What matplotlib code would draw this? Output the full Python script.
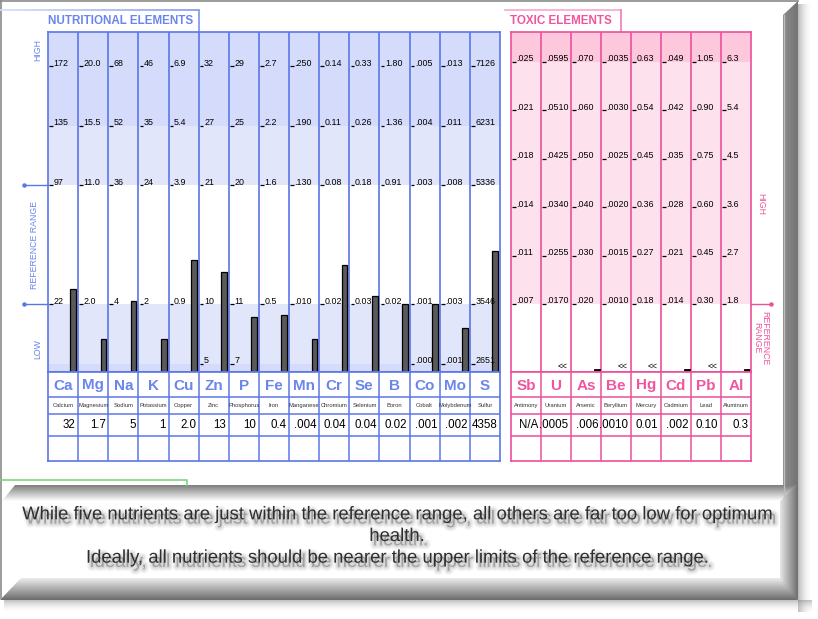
import numpy as np
import matplotlib
matplotlib.use('Agg')
import matplotlib.pyplot as plt
import matplotlib.colors as mcolors
from matplotlib import patheffects as pe
from matplotlib.patches import Polygon
from matplotlib.collections import LineCollection

W, H = 818, 619

# ---------------- data ----------------
nut_symbols = ['Ca', 'Mg', 'Na', 'K', 'Cu', 'Zn', 'P', 'Fe', 'Mn', 'Cr', 'Se', 'B', 'Co', 'Mo', 'S']
nut_names = ['Calcium', 'Magnesium', 'Sodium', 'Potassium', 'Copper', 'Zinc', 'Phosphorus', 'Iron',
             'Manganese', 'Chromium', 'Selenium', 'Boron', 'Cobalt', 'Molybdenum', 'Sulfur']
nut_results = ['32', '1.7', '5', '1', '2.0', '13', '10', '0.4', '.004', '0.04', '0.04', '0.02',
               '.001', '.002', '4358']
# bar level in % of the reference range (0 = lower limit, 100 = upper limit)
nut_bar_level = [13, -29, 3, -29, 37, 27, -11, -9, -29, 33, 7, 0, 0, -20, 45]
nut_tick_levels = [200, 150, 100, 0, -50]
nut_tick_200 = ['172', '20.0', '68', '46', '6.9', '32', '29', '2.7', '.250', '0.14', '0.33', '1.80', '.005', '.013', '7126']
nut_tick_150 = ['135', '15.5', '52', '35', '5.4', '27', '25', '2.2', '.190', '0.11', '0.26', '1.36', '.004', '.011', '6231']
nut_tick_100 = ['97', '11.0', '36', '24', '3.9', '21', '20', '1.6', '.130', '0.08', '0.18', '0.91', '.003', '.008', '5336']
nut_tick_0 = ['22', '2.0', '4', '2', '0.9', '10', '11', '0.5', '.010', '0.02', '0.03', '0.02', '.001', '.003', '3546']
nut_tick_m50 = ['', '', '', '', '', '5', '7', '', '', '', '', '', '.000', '.001', '2651']

tox_symbols = ['Sb', 'U', 'As', 'Be', 'Hg', 'Cd', 'Pb', 'Al']
tox_names = ['Antimony', 'Uranium', 'Arsenic', 'Beryllium', 'Mercury', 'Cadmium', 'Lead', 'Aluminum']
tox_results = ['N/A', '.0005', '.006', '.0010', '0.01', '.002', '0.10', '0.3']
# multiples of the reference upper limit
tox_tick_levels = [3.5, 3.0, 2.5, 2.0, 1.5, 1.0]
tox_tick_35 = ['.025', '.0595', '.070', '.0035', '0.63', '.049', '1.05', '6.3']
tox_tick_30 = ['.021', '.0510', '.060', '.0030', '0.54', '.042', '0.90', '5.4']
tox_tick_25 = ['.018', '.0425', '.050', '.0025', '0.45', '.035', '0.75', '4.5']
tox_tick_20 = ['.014', '.0340', '.040', '.0020', '0.36', '.028', '0.60', '3.6']
tox_tick_15 = ['.011', '.0255', '.030', '.0015', '0.27', '.021', '0.45', '2.7']
tox_tick_10 = ['.007', '.0170', '.020', '.0010', '0.18', '.014', '0.30', '1.8']
tox_bar_level = [np.nan, np.nan, 0.325, np.nan, np.nan, 0.325, np.nan, 0.325]
tox_flags = ['', '<<', '', '<<', '<<', '', '<<', '']

caption = ("While five nutrients are just within the reference range, all others are far too low for optimum\n"
           "health.\n"
           "Ideally, all nutrients should be nearer the upper limits of the reference range.")

# ---------------- style ----------------
BLUE = '#5b76e8'
BLUE_TXT = '#6a86ec'
NUT_DARK = '#d5dbfb'
NUT_LIGHT = '#e1e6fb'
PINK = '#ec4f9a'
PINK_TXT = '#f0559e'
TOX_DARK = '#fdc8dc'
TOX_LIGHT = '#fde1ed'
BAR_FILL = '#5a5a5a'
NUT_YLIM = (-57, 229)
TOX_YLIM = (0.297, 3.81)
SANS = ['Liberation Sans', 'DejaVu Sans']

fig = plt.figure(figsize=(W / 100, H / 100), dpi=100)
fig.patch.set_facecolor('white')


def px_axes(x0, y0, x1, y1, z=2):
    ax = fig.add_axes([x0 / W, 1 - y1 / H, (x1 - x0) / W, (y1 - y0) / H])
    ax.set_zorder(z)
    return ax


# ---------------- background frame ----------------
bg = fig.add_axes([0, 0, 1, 1])
bg.set_zorder(0)
bg.axis('off')


def grad(x0, x1, y0, y1, c0, c1, horizontal=False, clip=None, a0=1.0, a1=1.0, z=1):
    c0 = np.array(mcolors.to_rgba(c0, a0))
    c1 = np.array(mcolors.to_rgba(c1, a1))
    t = np.linspace(0, 1, 64)[:, None]
    arr = c0[None, :] * (1 - t) + c1[None, :] * t
    img = arr[None, :, :] if horizontal else arr[:, None, :]
    im = bg.imshow(img, extent=(x0, x1, y1, y0), origin='upper', aspect='auto',
                   interpolation='bilinear', zorder=z)
    if clip is not None:
        poly = Polygon(clip, closed=True, facecolor='none', edgecolor='none', transform=bg.transData)
        bg.add_patch(poly)
        im.set_clip_path(poly)
    return im


# right shadow
grad(798, 813, 4, 612, '#808080', '#ffffff', horizontal=True, a0=0.55, a1=0.0, z=1)
# bottom shadow
grad(4, 812, 600, 613, '#808080', '#ffffff', a0=0.5, a1=0.0, z=1)
# right strip
grad(783, 798, 0, 600, '#8c8c8c', '#737373', horizontal=True,
     clip=[(783, 15), (798, 1), (798, 600), (783, 585)], z=2)
bg.plot([783.5, 783.5], [15, 585], color='#bdbdbd', lw=1, zorder=3)
# slab top shadow
grad(0, 798, 485, 501, '#7d7d7d', '#ffffff',
     clip=[(15, 485), (798, 485), (780, 501), (2, 501)], z=2)
# slab bottom bevel
grad(0, 798, 578, 600, '#ececec', '#6c6c6c',
     clip=[(21, 578), (780, 578), (798, 600), (0, 600)], z=2)
# slab right bevel
grad(780, 798, 485, 600, '#e6e6e6', '#6e6e6e', horizontal=True,
     clip=[(780, 501), (798, 485), (798, 600), (780, 578)], z=3)
# outer thin border
bg.plot([0, 798], [0.5, 0.5], color='#8a8a8a', lw=1.2, zorder=4)
bg.plot([0.5, 0.5], [0, 598], color='#8a8a8a', lw=1.2, zorder=4)

# header tabs
tt = np.linspace(0, 1, 40)
xs = 199 * tt
segs = [[(xs[i], 10), (xs[i + 1], 10)] for i in range(len(xs) - 1)]
ca = np.array(mcolors.to_rgba('#d2ddf8'))
cb = np.array(mcolors.to_rgba('#7c96ee'))
cols = [ca * (1 - v) + cb * v for v in tt[:-1]]
bg.add_collection(LineCollection(segs, colors=cols, linewidths=1.2, zorder=4))
bg.plot([199, 199], [10, 32], color='#7a93ee', lw=1.2, zorder=4)
bg.text(48, 21.5, 'NUTRITIONAL ELEMENTS', fontsize=8.4, fontweight='bold', color=BLUE_TXT,
        family=SANS, va='center', ha='left', zorder=5)

bg.plot([505, 621], [10, 10], color='#f8a6cf', lw=1.2, zorder=4)
bg.plot([621, 621], [10, 32], color='#f07cba', lw=1.2, zorder=4)
bg.text(510, 21.5, 'TOXIC ELEMENTS', fontsize=8.4, fontweight='bold', color=PINK_TXT,
        family=SANS, va='center', ha='left', zorder=5)

# green line
bg.plot([0, 187, 187], [480, 480, 485], color='#7ed47e', lw=1.2, zorder=4)

# caption
shadow = [pe.Stroke(linewidth=6, foreground='#8a8a8a', alpha=0.08, offset=(2.5, -3)),
          pe.Stroke(linewidth=4, foreground='#8a8a8a', alpha=0.12, offset=(2.5, -3)),
          pe.Stroke(linewidth=2, foreground='#8a8a8a', alpha=0.16, offset=(2.5, -3)),
          pe.SimplePatchShadow(offset=(2.5, -3), shadow_rgbFace='#8a8a8a', alpha=0.2),
          pe.Normal()]
bg.text(397, 536.5, caption, fontsize=13.3, color='#2e2e2e', family=SANS, ha='center', va='center',
        multialignment='center', linespacing=1.36, zorder=6, path_effects=shadow)

bg.set_xlim(0, W)
bg.set_ylim(H, 0)

# ---------------- nutrient panel ----------------
nut = px_axes(48, 32, 500, 372)
n_nut = len(nut_symbols)
nut.set_xlim(0, n_nut)
nut.set_ylim(*NUT_YLIM)
nut.set_facecolor('white')
nut.axhspan(150, NUT_YLIM[1], color=NUT_DARK, lw=0, zorder=0)
nut.axhspan(100, 150, color=NUT_LIGHT, lw=0, zorder=0)
nut.axhspan(-50, 0, color=NUT_LIGHT, lw=0, zorder=0)
nut.axhspan(NUT_YLIM[0], -50, color=NUT_DARK, lw=0, zorder=0)
for i in range(1, n_nut):
    nut.axvline(i, color=BLUE, lw=1.2, zorder=1)
for s in nut.spines.values():
    s.set_color(BLUE)
    s.set_linewidth(1.2)
nut.set_xticks([])
nut.set_yticks([])

nut_rows = [nut_tick_200, nut_tick_150, nut_tick_100, nut_tick_0, nut_tick_m50]
for lev, labels in zip(nut_tick_levels, nut_rows):
    for i, lab in enumerate(labels):
        if lab:
            nut.plot([i + 0.04, i + 0.16], [lev, lev], color='black', lw=0.9,
                     solid_capstyle='butt', zorder=3)
            nut.text(i + 0.18, lev + 0.6, lab, fontsize=6.4, family=SANS, color='black',
                     ha='left', va='baseline', zorder=3)

xb = np.arange(n_nut) + 0.84
lev = np.array(nut_bar_level, dtype=float)
nut.bar(xb, lev - NUT_YLIM[0], bottom=NUT_YLIM[0], width=0.19, color=BAR_FILL,
        edgecolor='black', linewidth=0.9, zorder=2)

# side labels
nut.text(-0.33, 214, 'HIGH', rotation=90, fontsize=6.3, color=BLUE_TXT, family=SANS,
         ha='center', va='center', clip_on=False)
nut.text(-0.45, 50, 'REFERENCE RANGE', rotation=90, fontsize=6.3, color=BLUE_TXT, family=SANS,
         ha='center', va='center', clip_on=False)
nut.text(-0.33, -38, 'LOW', rotation=90, fontsize=6.3, color=BLUE_TXT, family=SANS,
         ha='center', va='center', clip_on=False)
for yv in (100, 0):
    nut.plot([-0.8, 0], [yv, yv], color=BLUE, lw=1, clip_on=False, zorder=3)
    nut.plot([-0.8], [yv], marker='o', ms=2.2, color=BLUE, clip_on=False, zorder=3)

# ---------------- toxic panel ----------------
tox = px_axes(511, 32, 751, 372)
n_tox = len(tox_symbols)
tox.set_xlim(0, n_tox)
tox.set_ylim(*TOX_YLIM)
tox.set_facecolor('white')
tox.axhspan(3.5, TOX_YLIM[1], color=TOX_DARK, lw=0, zorder=0)
tox.axhspan(1.0, 3.5, color=TOX_LIGHT, lw=0, zorder=0)
for i in range(1, n_tox):
    tox.axvline(i, color=PINK, lw=1.2, zorder=1)
for s in tox.spines.values():
    s.set_color(PINK)
    s.set_linewidth(1.2)
tox.set_xticks([])
tox.set_yticks([])

tox_rows = [tox_tick_35, tox_tick_30, tox_tick_25, tox_tick_20, tox_tick_15, tox_tick_10]
for lv, labels in zip(tox_tick_levels, tox_rows):
    for i, lab in enumerate(labels):
        tox.plot([i + 0.04, i + 0.16], [lv, lv], color='black', lw=0.9,
                 solid_capstyle='butt', zorder=3)
        tox.text(i + 0.18, lv + 0.006, lab, fontsize=6.4, family=SANS, color='black',
                 ha='left', va='baseline', zorder=3)

tl = np.array(tox_bar_level, dtype=float)
ok = ~np.isnan(tl)
tox.bar(np.arange(n_tox)[ok] + 0.86, tl[ok] - TOX_YLIM[0], bottom=TOX_YLIM[0], width=0.2,
        color='black', edgecolor='black', linewidth=0.6, zorder=2)
for i, f in enumerate(tox_flags):
    if f:
        tox.text(i + 0.72, 0.36, f, fontsize=6.3, family=SANS, color='black',
                 ha='center', va='center', zorder=3)

tox.text(n_tox + 0.33, 2.03, 'HIGH', rotation=-90, fontsize=6.3, color=PINK_TXT, family=SANS,
         ha='center', va='center', clip_on=False)
tox.text(n_tox + 0.33, 0.65, 'REFERENCE\nRANGE', rotation=-90, fontsize=6.3, color=PINK_TXT,
         family=SANS, ha='center', va='center', multialignment='center', linespacing=0.95,
         clip_on=False)
tox.plot([n_tox, n_tox + 0.67], [1.0, 1.0], color=PINK, lw=1, clip_on=False, zorder=3)
tox.plot([n_tox + 0.67], [1.0], marker='o', ms=2.2, color=PINK, clip_on=False, zorder=3)


# ---------------- tables ----------------
def make_table(x0, x1, symbols, names, results, line_col, sym_col):
    ax = px_axes(x0, 372, x1, 461, z=3)
    n = len(symbols)
    ax.set_xlim(0, n)
    ax.set_ylim(89, 0)
    ax.set_facecolor('white')
    ax.set_xticks([])
    ax.set_yticks([])
    for s in ax.spines.values():
        s.set_color(line_col)
        s.set_linewidth(1.2)
    for yv in (25, 42, 64):
        ax.axhline(yv, color=line_col, lw=1.1)
    for i in range(1, n):
        ax.axvline(i, color=line_col, lw=1.1)
    for i in range(n):
        ax.text(i + 0.5, 13.5, symbols[i], fontsize=11, fontweight='bold', color=sym_col,
                family=SANS, ha='center', va='center')
        ax.text(i + 0.5, 33.5, names[i], fontsize=4.2, color='#333333', family=SANS,
                ha='center', va='center')
        ax.text(i + 0.91, 53.5, results[i], fontsize=8.3, color='black', family=SANS,
                ha='right', va='center')
    return ax


make_table(48, 500, nut_symbols, nut_names, nut_results, BLUE, BLUE_TXT)
make_table(511, 751, tox_symbols, tox_names, tox_results, PINK, PINK_TXT)

fig.savefig('out.png', dpi=100, facecolor='white')
